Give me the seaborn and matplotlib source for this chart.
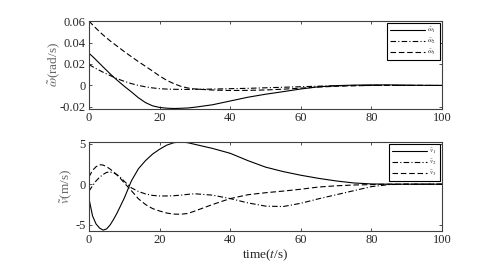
import numpy as np
import pandas as pd
import matplotlib
matplotlib.use('Agg')
import matplotlib.pyplot as plt
import seaborn as sns

# time samples
t = [0, 1, 2, 3, 4, 5, 6, 7, 8, 9, 10, 12, 14, 16, 18, 20, 22, 24, 26, 28, 30,
     35, 40, 45, 50, 55, 60, 65, 70, 75, 80, 85, 90, 95, 100]

# angular velocity errors (rad/s)
w1 = [0.030, 0.027, 0.0238, 0.0205, 0.0172, 0.014, 0.0108, 0.0077, 0.0048, 0.002, -0.0008,
      -0.006, -0.0115, -0.016, -0.019, -0.0205, -0.0212, -0.0215, -0.0213, -0.021, -0.0203,
      -0.018, -0.0145, -0.011, -0.0082, -0.0058, -0.0033, -0.0013, -0.0002, 0.0003, 0.0005,
      0.0005, 0.0003, 0.0001, 0.0]
w2 = [0.0195, 0.0175, 0.0157, 0.014, 0.0123, 0.0107, 0.0092, 0.0077, 0.0063, 0.005, 0.0038,
      0.0017, 0.0, -0.0013, -0.0023, -0.003, -0.0034, -0.0036, -0.0037, -0.0037, -0.0036,
      -0.0034, -0.003, -0.0027, -0.0022, -0.0017, -0.0012, -0.0007, -0.0003, -0.0001, 0.0,
      0.0, 0.0, 0.0, 0.0]
w3 = [0.060, 0.0565, 0.0532, 0.050, 0.047, 0.0442, 0.0415, 0.039, 0.0365, 0.034, 0.0315,
      0.0268, 0.0222, 0.0178, 0.0134, 0.0088, 0.0048, 0.0017, -0.0008, -0.0024, -0.0033,
      -0.0043, -0.0047, -0.0046, -0.0042, -0.0035, -0.0025, -0.0015, -0.0008, -0.0003, 0.0,
      0.0001, 0.0, 0.0, 0.0]

# velocity errors (m/s)
v1 = [-1.8, -3.9, -4.9, -5.4, -5.65, -5.5, -5.0, -4.3, -3.5, -2.6, -1.7,
      0.4, 1.9, 2.9, 3.7, 4.3, 4.8, 5.1, 5.2, 5.1, 4.9,
      4.4, 3.8, 2.9, 2.1, 1.55, 1.1, 0.72, 0.4, 0.15, 0.03, 0.0, 0.0, 0.0, 0.0]
v2 = [-0.85, -0.2, 0.4, 0.85, 1.2, 1.45, 1.5, 1.4, 1.15, 0.8, 0.35,
      -0.45, -0.9, -1.2, -1.38, -1.45, -1.45, -1.42, -1.35, -1.25, -1.18,
      -1.35, -1.77, -2.3, -2.7, -2.75, -2.35, -1.8, -1.3, -0.8, -0.3, -0.05, 0.0, 0.0, 0.0]
v3 = [0.9, 1.7, 2.15, 2.4, 2.35, 2.15, 1.85, 1.5, 1.1, 0.65, 0.15,
      -0.8, -1.8, -2.5, -3.0, -3.3, -3.55, -3.68, -3.7, -3.6, -3.3,
      -2.5, -1.77, -1.3, -1.05, -0.85, -0.62, -0.35, -0.2, -0.1, -0.05, 0.0, 0.0, 0.0, 0.0]

xticks = [0, 20, 40, 60, 80, 100]
w_ticks = [-0.02, 0, 0.02, 0.04, 0.06]
w_ticklabels = ['-0.02', '0', '0.02', '0.04', '0.06']
v_ticks = [-5, 0, 5]
v_ticklabels = ['-5', '0', '5']

sns.set_style("ticks")
plt.rcParams['font.family'] = ['Liberation Serif', 'DejaVu Serif']
plt.rcParams['mathtext.fontset'] = 'stix'
plt.rcParams['axes.unicode_minus'] = False
plt.rcParams['xtick.direction'] = 'in'
plt.rcParams['ytick.direction'] = 'in'

fig = plt.figure(figsize=(4.88, 2.71), dpi=100)
ax1 = fig.add_axes([0.1824, 0.5996, 0.7234, 0.3247])
ax2 = fig.add_axes([0.1824, 0.1494, 0.7234, 0.3284])

styles = ['-', (0, (5, 2, 1, 2)), (0, (5, 2.5))]


def draw(ax, series, labels):
    for y, lab, ls in zip(series, labels, styles):
        sns.lineplot(x=t, y=y, ax=ax, color='k', lw=0.8, label=lab, linestyle=ls)


draw(ax1, [w1, w2, w3], [r'$\tilde{\omega}_1$', r'$\tilde{\omega}_2$', r'$\tilde{\omega}_3$'])
draw(ax2, [v1, v2, v3], [r'$\tilde{v}_1$', r'$\tilde{v}_2$', r'$\tilde{v}_3$'])

ax1.set_ylim(-0.0215, 0.0605)
ax1.set_yticks(w_ticks)
ax1.set_yticklabels(w_ticklabels)
ax1.set_ylabel(r'$\tilde{\omega}$(rad/s)', color='0.4', fontsize=9.5, labelpad=-2)

ax2.set_ylim(-5.7, 5.25)
ax2.set_yticks(v_ticks)
ax2.set_yticklabels(v_ticklabels)
ax2.set_ylabel(r'$\tilde{v}$(m/s)', color='0.4', fontsize=9.5, labelpad=1)
ax2.set_xlabel(r'time($t$/s)', fontsize=9.5, labelpad=1)

for ax in (ax1, ax2):
    ax.set_xlim(0, 100)
    ax.set_xticks(xticks)
    ax.tick_params(top=True, right=True, length=2.5, width=0.6, labelsize=9, pad=2.5,
                   color='0.2')
    for s in ax.spines.values():
        s.set_visible(True)
        s.set_color('0.25')
        s.set_linewidth(0.8)
    leg = ax.legend(loc='upper right', fontsize=5, handlelength=5, fancybox=False,
                    edgecolor='k', framealpha=1, borderaxespad=0.35, labelspacing=0.25,
                    handletextpad=0.3, borderpad=0.45)
    leg.get_frame().set_linewidth(0.8)

plt.savefig('out.png', dpi=100)
